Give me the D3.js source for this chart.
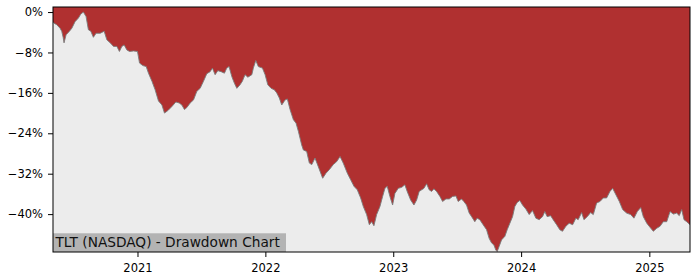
<!DOCTYPE html>
<html>
<head>
<meta charset="utf-8">
<script src="https://cdn.jsdelivr.net/npm/d3@7/dist/d3.min.js"></script>
<style>
  html, body { margin: 0; padding: 0; background: #fff; }
  svg { display: block; }
  text { font-family: "DejaVu Sans", sans-serif; }
</style>
</head>
<body>
<script>
// Decimal-year dates and drawdown values (%)
const years = [
  2020.341, 2020.349, 2020.370, 2020.396, 2020.409, 2020.420, 2020.427, 2020.443, 2020.469, 2020.488,
  2020.513, 2020.539, 2020.558, 2020.578, 2020.599, 2020.617, 2020.636, 2020.656, 2020.677, 2020.709,
  2020.740, 2020.761, 2020.787, 2020.813, 2020.839, 2020.859, 2020.878, 2020.896, 2020.917, 2020.938,
  2020.969, 2021.000, 2021.016, 2021.042, 2021.068, 2021.086, 2021.113, 2021.138, 2021.164, 2021.191,
  2021.211, 2021.238, 2021.269, 2021.300, 2021.326, 2021.347, 2021.367, 2021.386, 2021.412, 2021.438,
  2021.464, 2021.490, 2021.516, 2021.542, 2021.568, 2021.586, 2021.607, 2021.628, 2021.654, 2021.680,
  2021.698, 2021.716, 2021.738, 2021.758, 2021.777, 2021.802, 2021.820, 2021.841, 2021.863, 2021.894,
  2021.906, 2021.925, 2021.945, 2021.977, 2021.998, 2022.019, 2022.045, 2022.070, 2022.089, 2022.109,
  2022.128, 2022.154, 2022.172, 2022.193, 2022.219, 2022.240, 2022.258, 2022.284, 2022.297, 2022.323,
  2022.344, 2022.363, 2022.388, 2022.414, 2022.448, 2022.474, 2022.500, 2022.531, 2022.558, 2022.584,
  2022.609, 2022.641, 2022.667, 2022.693, 2022.719, 2022.745, 2022.766, 2022.792, 2022.813, 2022.831,
  2022.849, 2022.870, 2022.896, 2022.917, 2022.935, 2022.953, 2022.974, 2022.995, 2023.013, 2023.039,
  2023.066, 2023.091, 2023.109, 2023.136, 2023.162, 2023.183, 2023.203, 2023.222, 2023.240, 2023.261,
  2023.281, 2023.300, 2023.318, 2023.339, 2023.365, 2023.386, 2023.412, 2023.438, 2023.464, 2023.490,
  2023.508, 2023.534, 2023.552, 2023.573, 2023.594, 2023.613, 2023.638, 2023.656, 2023.677, 2023.703,
  2023.730, 2023.750, 2023.769, 2023.787, 2023.802, 2023.813, 2023.828, 2023.847, 2023.873, 2023.891,
  2023.912, 2023.933, 2023.951, 2023.969, 2023.990, 2024.011, 2024.037, 2024.063, 2024.089, 2024.115,
  2024.141, 2024.167, 2024.185, 2024.203, 2024.230, 2024.250, 2024.277, 2024.302, 2024.323, 2024.349,
  2024.375, 2024.402, 2024.427, 2024.445, 2024.472, 2024.490, 2024.516, 2024.542, 2024.563, 2024.589,
  2024.615, 2024.641, 2024.667, 2024.693, 2024.714, 2024.740, 2024.766, 2024.792, 2024.823, 2024.855,
  2024.880, 2024.906, 2024.933, 2024.953, 2024.980, 2025.005, 2025.031, 2025.058, 2025.084, 2025.109,
  2025.136, 2025.162, 2025.188, 2025.214, 2025.234, 2025.253, 2025.271, 2025.292, 2025.318
];
const drawdown = [
  -1.9, -2.2, -2.5, -3.2, -3.8, -5.0, -6.1, -4.5, -3.8, -3.2,
  -1.9, -1.2, -0.4, 0.0, -0.9, -3.5, -3.8, -5.0, -4.2, -4.2,
  -3.8, -5.5, -6.1, -6.8, -6.8, -7.8, -6.8, -6.5, -7.5, -7.8,
  -7.7, -7.8, -10.1, -10.6, -10.8, -12.1, -13.7, -15.4, -17.6, -18.4,
  -20.0, -19.5, -18.7, -17.8, -18.0, -18.4, -19.3, -18.9, -18.0, -17.4,
  -15.7, -15.1, -13.7, -12.2, -11.8, -11.1, -12.4, -11.6, -11.8, -12.1,
  -11.1, -10.8, -12.8, -14.1, -15.1, -14.4, -13.7, -12.4, -12.9, -12.4,
  -11.1, -9.6, -10.8, -11.1, -12.4, -14.4, -15.1, -15.4, -16.0, -17.0,
  -18.4, -17.4, -17.2, -19.3, -21.3, -22.0, -23.6, -26.3, -27.3, -27.6,
  -29.9, -30.2, -28.9, -30.6, -32.9, -31.9, -31.2, -30.2, -29.6, -28.6,
  -29.9, -31.9, -33.2, -34.5, -35.2, -36.8, -38.5, -40.1, -42.1, -41.5,
  -42.3, -40.1, -38.5, -36.5, -34.9, -34.5, -36.5, -38.2, -35.9, -34.9,
  -34.7, -34.2, -35.5, -37.2, -38.2, -37.2, -35.5, -35.2, -34.9, -34.0,
  -35.2, -35.5, -35.0, -35.5, -36.5, -37.5, -37.0, -37.0, -36.5, -36.4,
  -37.5, -37.0, -37.5, -38.2, -39.8, -40.5, -41.5, -40.8, -41.1, -42.1,
  -43.1, -44.8, -45.7, -46.1, -47.1, -47.4, -46.4, -45.1, -44.4, -43.1,
  -41.8, -40.5, -38.5, -37.7, -37.3, -38.2, -39.0, -40.1, -39.3, -40.8,
  -41.1, -40.5, -39.5, -40.5, -40.3, -41.1, -42.1, -43.1, -43.4, -42.4,
  -41.8, -42.1, -40.8, -41.1, -39.7, -41.1, -40.5, -39.7, -40.1, -37.8,
  -37.5, -36.8, -36.8, -35.5, -34.9, -36.2, -37.5, -39.1, -39.8, -40.1,
  -40.8, -39.5, -38.7, -40.5, -41.8, -42.6, -43.4, -42.8, -42.4, -41.5,
  -41.5, -39.5, -40.0, -39.8, -40.3, -39.1, -41.1, -41.5, -42.1
];
const yTicks = [0, -8, -16, -24, -32, -40];
const xTickYears = [2021, 2022, 2023, 2024, 2025];
const chartLabel = "TLT (NASDAQ) - Drawdown Chart";

function yearToDate(y) {
  const yr = Math.floor(y);
  const a = new Date(yr, 0, 1), b = new Date(yr + 1, 0, 1);
  return new Date(a.getTime() + (y - yr) * (b - a));
}

const data = years.map((y, i) => ({ date: yearToDate(y), v: drawdown[i] }));

const W = 700, H = 280;
const L = 53, R = 690, T = 7, B = 252;

const svg = d3.select("body").append("svg").attr("width", W).attr("height", H);
svg.append("rect").attr("width", W).attr("height", H).attr("fill", "#fff");

const x = d3.scaleTime().domain(d3.extent(data, d => d.date)).range([L, R]);
const y = d3.scaleLinear().domain([-47.5, 1.0]).range([B, T]);

svg.append("clipPath").attr("id", "clip")
  .append("rect").attr("x", L).attr("y", T).attr("width", R - L).attr("height", B - T);

const g = svg.append("g").attr("clip-path", "url(#clip)");
g.append("rect").attr("x", L).attr("y", T).attr("width", R - L).attr("height", B - T).attr("fill", "#ececec");

const area = d3.area().x(d => x(d.date)).y0(y(y.domain()[1])).y1(d => y(d.v));
g.append("path").datum(data).attr("d", area).attr("fill", "#b03030");

const line = d3.line().x(d => x(d.date)).y(d => y(d.v));
g.append("path").datum(data).attr("d", line).attr("fill", "none")
  .attr("stroke", "#7a7a7a").attr("stroke-width", 0.9);

// label box
const lbl = svg.append("g");
lbl.append("rect").attr("x", L).attr("y", 233.3).attr("width", 233).attr("height", B - 233.3).attr("fill", "#b3b3b3");
lbl.append("text").attr("x", L + 2.5).attr("y", 246.8).attr("font-size", "13.7px").attr("fill", "#111").text(chartLabel);

// axes
const fmt = v => (v === 0 ? "0" : "\u2212" + Math.abs(v)) + "%";
const yAxis = svg.append("g").attr("transform", `translate(${L},0)`)
  .call(d3.axisLeft(y).tickValues(yTicks).tickFormat(fmt).tickSize(5).tickPadding(5));
const xAxis = svg.append("g").attr("transform", `translate(0,${B})`)
  .call(d3.axisBottom(x).tickValues(xTickYears.map(v => new Date(v, 0, 1))).tickFormat(d3.timeFormat("%Y")).tickSize(5).tickPadding(6.5));
[yAxis, xAxis].forEach(a => {
  a.select(".domain").remove();
  a.selectAll("text").attr("font-size", "11.5px").attr("fill", "#000").attr("font-family", "DejaVu Sans, sans-serif");
  a.selectAll("line").attr("stroke", "#000");
});

svg.append("rect").attr("x", L).attr("y", T).attr("width", R - L).attr("height", B - T)
  .attr("fill", "none").attr("stroke", "#000").attr("stroke-width", 1);
</script>
</body>
</html>
